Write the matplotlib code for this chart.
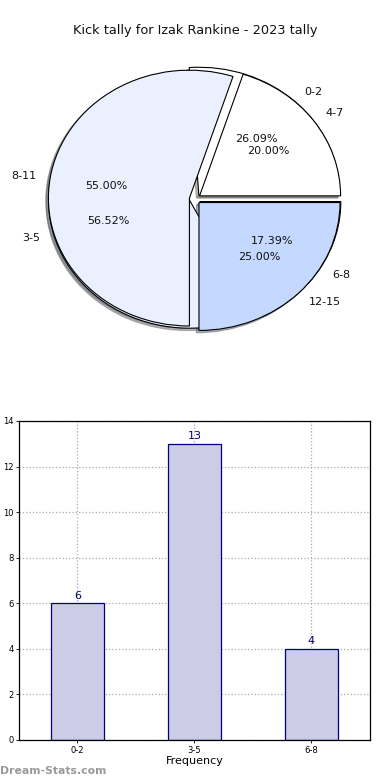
import matplotlib
matplotlib.use("Agg")
import matplotlib.pyplot as plt

# Data
title = "Kick tally for Izak Rankine - 2023 tally"
pie1_labels = ["0-2", "3-5", "6-8"]
pie1_values = [6, 13, 4]
pie2_labels = ["4-7", "8-11", "12-15"]
pie2_values = [4, 11, 5]
bar_categories = ["0-2", "3-5", "6-8"]
bar_values = [6, 13, 4]
y_ticks = [0, 2, 4, 6, 8, 10, 12, 14]

pie_colors = ["#ffffff", "#eaf0fe", "#c5d8ff"]

fig = plt.figure(figsize=(3.9, 7.8), dpi=100)

# Pie axes
ax1 = fig.add_axes([0.048, 0.540, 0.904, 0.410])
explode = [0.04, 0.04, 0.04]
for vals, labs in ((pie1_values, pie1_labels), (pie2_values, pie2_labels)):
    wedges, texts, autotexts = ax1.pie(
        vals, labels=labs, colors=pie_colors, explode=explode,
        autopct="%.2f%%", shadow={"ox": -0.013, "oy": -0.013, "shade": 0.55},
        startangle=0,
        wedgeprops=dict(edgecolor="black", linewidth=0.8),
        textprops=dict(fontsize=8, color="#111111"))
ax1.set_aspect("auto")
ax1.set_xlim(-1.25, 1.25)
ax1.set_ylim(-1.25, 1.25)
fig.text(0.5, 0.961, title, ha="center", va="center", fontsize=9.3, color="#111111")

# Bar axes
ax2 = fig.add_axes([0.0487, 0.0513, 0.9, 0.409])
x = list(range(len(bar_categories)))
bars = ax2.bar(x, bar_values, width=0.45, color="#cccce6", edgecolor="#000080",
               linewidth=0.9, zorder=2)
for xi, v in zip(x, bar_values):
    ax2.text(xi, v + 0.12, str(v), ha="center", va="bottom", fontsize=8, color="#000080")
ax2.set_xlim(-0.5, 2.5)
ax2.set_ylim(0, 14)
ax2.set_xticks(x)
ax2.set_xticklabels(bar_categories, fontsize=6)
ax2.set_yticks(y_ticks)
ax2.set_yticklabels([str(t) for t in y_ticks], fontsize=6)
ax2.tick_params(axis="both", length=2, width=0.6, pad=2)
ax2.grid(True, linestyle=":", color="#aaaaaa", linewidth=0.9, zorder=0)
ax2.set_axisbelow(True)
ax2.set_xlabel("Frequency", fontsize=8, labelpad=1)
ax2.set_ylabel("Distribution", fontsize=8, labelpad=6)
for s in ax2.spines.values():
    s.set_linewidth(0.9)

fig.text(0.0, 0.012, "Dream-Stats.com", ha="left", va="center", fontsize=7.8,
         color="#999999", fontweight="bold")

fig.savefig("out.png", dpi=100)
